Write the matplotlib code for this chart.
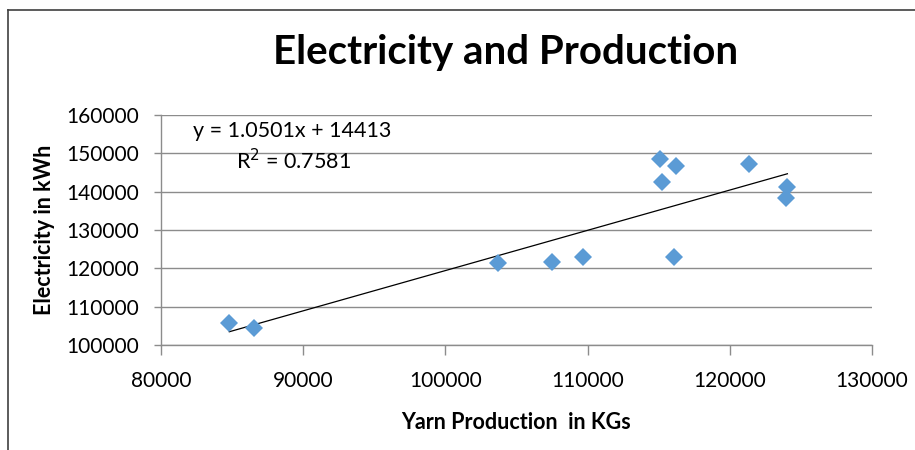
import matplotlib
matplotlib.use("Agg")
import matplotlib.pyplot as plt
import numpy as np

# yarn production (kg) vs electricity (kWh)
production = [84800, 86550, 103700, 107500, 109700, 115100, 116200, 115200,
              121350, 124050, 123950, 116100]
electricity = [105750, 104350, 121300, 121650, 123050, 148500, 146800, 142500,
               147200, 141200, 138300, 123050]

# trendline coefficients as printed on the chart
slope = 1.0501
intercept = 14413
r_squared = 0.7581

x_ticks = [80000, 90000, 100000, 110000, 120000, 130000]
y_ticks = [100000, 110000, 120000, 130000, 140000, 150000, 160000]

plt.rcParams['font.family'] = ['Lato', 'DejaVu Sans']

fig = plt.figure(figsize=(9.15, 4.5), dpi=100)
ax = fig.add_axes([0.176, 0.2333, 0.777, 0.5111])

grid_col = '#8c8c8c'
ax.set_xlim(x_ticks[0], x_ticks[-1])
ax.set_ylim(y_ticks[0], y_ticks[-1])
ax.set_xticks(x_ticks)
ax.set_yticks(y_ticks)
ax.yaxis.grid(True, color=grid_col, linewidth=1)
ax.set_axisbelow(True)

for s in ['top', 'right']:
    ax.spines[s].set_visible(False)
for s in ['left', 'bottom']:
    ax.spines[s].set_color(grid_col)
    ax.spines[s].set_linewidth(1)

ax.tick_params(axis='x', direction='out', length=7, width=1, color=grid_col,
               labelsize=15, pad=12)
ax.tick_params(axis='y', direction='out', length=5, width=1, color=grid_col,
               labelsize=15, pad=11)

ax.plot(production, electricity, linestyle='none', marker='D',
        markersize=9, color='#5b9bd5', markeredgewidth=0, zorder=3)

xs = np.array([min(production), max(production)])
ax.plot(xs, slope * xs + intercept, color='black', linewidth=0.9, zorder=2)

ax.text(0.045, 0.93, 'y = %.4fx + %d' % (slope, intercept), transform=ax.transAxes,
        fontsize=15.5, va='center', ha='left')
ax.text(0.105, 0.80, 'R$^2$ = %.4f' % r_squared, transform=ax.transAxes,
        fontsize=15.5, va='center', ha='left')

fig.text(0.553, 0.884, 'Electricity and Production', fontsize=29,
         fontweight='bold', ha='center', va='center')
ax.set_xlabel('Yarn Production  in KGs', fontsize=15.5, fontweight='bold',
              labelpad=15)
ax.set_ylabel('Electricity in kWh', fontsize=15.5, fontweight='bold',
              labelpad=8)

# outer chart border (top and left visible in the crop)
fig.add_artist(plt.Line2D([0.009, 1.0], [0.977, 0.977], color='#404040',
                          linewidth=1.2, transform=fig.transFigure))
fig.add_artist(plt.Line2D([0.009, 0.009], [0.0, 0.977], color='#404040',
                          linewidth=1.2, transform=fig.transFigure))

fig.savefig('out.png', dpi=100)
